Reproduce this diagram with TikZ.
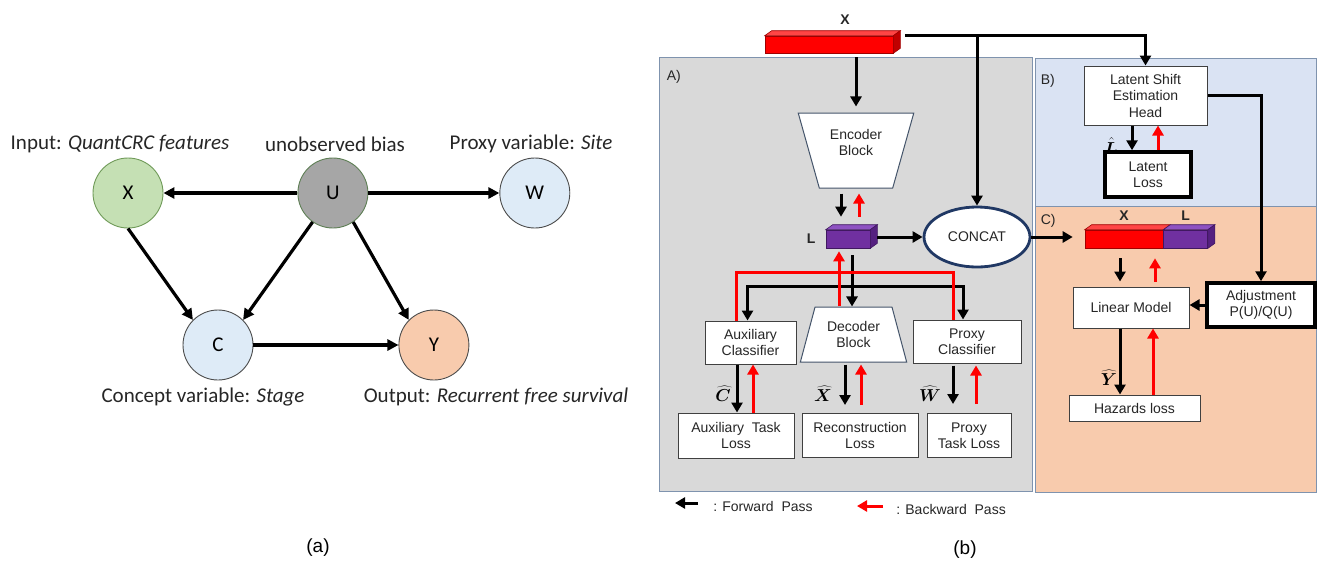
\documentclass[tikz,border=0pt]{standalone}
\usepackage{fontspec}
\setmainfont{Liberation Sans}
\newfontfamily\calibri{Carlito}
\usepackage{bm}
\usetikzlibrary{positioning,shapes.geometric,arrows.meta}
\definecolor{xgreen}{HTML}{C5E0B4}
\definecolor{xgreenline}{HTML}{6F9A58}
\definecolor{ugray}{HTML}{A6A6A6}
\definecolor{ugrayline}{HTML}{5E7F55}
\definecolor{lblue}{HTML}{DEEBF7}
\definecolor{peach}{HTML}{F8CBAD}
\definecolor{panelA}{HTML}{D9D9D9}
\definecolor{panelB}{HTML}{DAE3F3}
\definecolor{panelline}{HTML}{7F93AE}
\definecolor{boxline}{HTML}{44546A}
\definecolor{navy}{HTML}{203864}
\definecolor{barred}{HTML}{FF0000}
\definecolor{barredtop}{HTML}{FF4545}
\definecolor{barredside}{HTML}{C00000}
\definecolor{barredline}{HTML}{A00000}
\definecolor{barpurple}{HTML}{7030A0}
\definecolor{barpurpletop}{HTML}{8E52C2}
\definecolor{barpurpleside}{HTML}{552080}
\definecolor{barpurpleline}{HTML}{401860}
\newcommand{\varfont}{\calibri\fontsize{21}{25}\selectfont}
\newcommand{\boxfont}{\fontsize{14}{16.5}\selectfont}
\tikzstyle{var}=[draw,circle,minimum size=70pt,inner sep=0pt,line width=0.9pt,font=\varfont]
\tikzstyle{varcap}=[inner sep=0pt,font=\varfont,text=black!85]
\tikzstyle{causal}=[-{Triangle[length=11pt,width=11pt]},line width=3.2pt]
\tikzstyle{panel}=[draw=panelline,line width=1pt,inner sep=0pt]
\tikzstyle{box}=[draw=black!75,fill=white,line width=1pt,align=center,inner sep=0pt,font=\boxfont,text=black!85]
\tikzstyle{heavybox}=[draw=black,line width=3.5pt]
\tikzstyle{block}=[trapezium,trapezium stretches=true,draw=boxline,fill=white,line width=1pt,inner sep=1pt,align=center,font=\boxfont,text=black!85]
\tikzstyle{txt}=[inner sep=0pt,font=\boxfont,align=center,text=black!85]
\tikzstyle{hatlab}=[inner sep=0pt,font=\fontsize{17}{20}\selectfont]
\tikzstyle{fwd}=[-{Triangle[length=10pt,width=11pt]},line width=3pt]
\tikzstyle{bwd}=[fwd,red]
\tikzstyle{slab}=[inner sep=0pt,line width=0.6pt,minimum height=18pt]
\newcommand{\newVar}[4]{\node[var,#3](#1)[#4]{#2};}
\newcommand{\newArc}[3]{\draw[causal,#3] (#1) -- (#2);}
\newcommand{\newBox}[4]{\node[box,#3](#1)[#4]{#2};}
% upper, lower, x of forward arrow, x of backward arrow, gap at upper, gap at lower
\newcommand{\newPair}[6]{%
  \coordinate (fw) at ([xshift=#3]#1.south);
  \coordinate (bw) at ([xshift=#4]#1.south);
  \draw[fwd,shorten <=#5,shorten >=#6] (fw) -- (fw |- #2.north);
  \draw[bwd,shorten <=#6,shorten >=#5] (bw |- #2.north) -- (bw);}
\newcommand{\slabTop}[3]{\filldraw[fill=#2,draw=#3,line width=0.6pt] (#1.north west) -- ++(7,-5) -- ([shift={(7,-5)}]#1.north east) -- (#1.north east) -- cycle;}
\newcommand{\slabSide}[3]{\filldraw[fill=#2,draw=#3,line width=0.6pt] (#1.north east) -- ++(7,-5) -- ([shift={(7,-5)}]#1.south east) -- (#1.south east) -- cycle;}

\begin{document}
\begin{tikzpicture}[x=1pt,y=-1pt,semithick]
  \fill[white] (0,0) rectangle (1321,563);
  \useasboundingbox (0,0) rectangle (1321,563);

  % (a) causal graph
  \newVar{X}{X}{fill=xgreen,draw=xgreenline}{at={(128,193)}}
  \newVar{U}{U}{fill=ugray,draw=ugrayline}{right=134pt of X}
  \newVar{W}{W}{fill=lblue,draw=black!70}{right=131pt of U}
  \newVar{C}{C}{fill=lblue,draw=black!70}{at={(218,345)}}
  \newVar{Y}{Y}{fill=peach,draw=black!70}{right=145pt of C}
  \newArc{U}{X}{}
  \newArc{U}{W}{}
  \newArc{X.south}{C.135}{}
  \newArc{U.235}{C.45}{}
  \newArc{U.305}{Y.135}{}
  \newArc{C}{Y}{}
  \node[varcap] (lx) at (120,144) {Input: \textit{QuantCRC features}};
  \node[varcap] (lu) at (335,144) {unobserved bias};
  \node[varcap] (lw) at (531,144) {Proxy variable: \textit{Site}};
  \node[varcap] (lc) at (203,397) {Concept variable: \textit{Stage}};
  \node[varcap] (ly) at (496,397) {Output: \textit{Recurrent free survival}};
  \node[font=\fontsize{19}{22}\selectfont] (capa) at (318,548) {(a)};

  % (b) panels
  \node[panel,fill=panelA,minimum width=373pt,minimum height=434pt] (pa) at (845.5,274) {};
  \node[panel,fill=panelB,minimum width=281pt,minimum height=148pt] (pb) at (1175.5,132) {};
  \node[panel,fill=peach,minimum width=281pt,minimum height=286pt] (pc) at (1175.5,349) {};
  \node[txt,anchor=north west] (pal) at ([shift={(8,14)}]pa.north west) {A)};
  \node[txt,anchor=north west] (pbl) at ([shift={(6,17)}]pb.north west) {B)};
  \node[txt,anchor=north west] (pcl) at ([shift={(6,9)}]pc.north west) {C)};

  % input and latent vectors
  \node[slab,fill=barred,draw=barredline,minimum width=128pt,minimum height=17pt] (xbar) at (829,44.5) {};
  \slabTop{xbar}{barredtop}{barredline}
  \slabSide{xbar}{barredside}{barredline}
  \node[txt,font=\boxfont\bfseries] (xlab) at (845,20) {X};
  \node[slab,fill=barpurple,draw=barpurpleline,minimum width=44pt] (lat) at (848,239) {};
  \slabTop{lat}{barpurpletop}{barpurpleline}
  \slabSide{lat}{barpurpleside}{barpurpleline}
  \node[txt,font=\boxfont\bfseries,left=10pt of lat] (llab) {L};

  % A) autoencoder with auxiliary heads
  \node[block,trapezium left angle=109,trapezium right angle=109,minimum width=116pt,minimum height=75pt] (enc) at (856,150.5) {Encoder\\Block\\\mbox{}};
  \node[block,trapezium angle=70,minimum width=107pt,minimum height=55pt] (dec) at (853.5,334.5) {Decoder\\Block};
  \node[ellipse,draw=navy,line width=2.8pt,fill=white,minimum width=106pt,minimum height=60pt,inner sep=0pt,font=\boxfont,text=black!85] (concat) at (977,237) {CONCAT};
  \newBox{aux}{Auxiliary\\Classifier}{minimum width=91pt,minimum height=43pt}{at={(750.5,342.5)}}
  \newBox{prx}{Proxy\\Classifier}{minimum width=108pt,minimum height=43pt}{at={(967,341.5)}}
  \newBox{auxl}{Auxiliary\ \ Task\\Loss}{minimum width=116pt,minimum height=45pt}{at={(736,435.5)}}
  \newBox{rec}{Reconstruction\\Loss}{minimum width=116pt,minimum height=44pt}{right=7pt of auxl}
  \newBox{prxl}{Proxy\\Task Loss}{minimum width=84pt,minimum height=44pt}{right=8pt of rec}

  % B) latent shift head
  \newBox{lsh}{Latent Shift\\Estimation\\Head}{minimum width=123pt,minimum height=59pt}{at={(1145.5,95.5)}}
  \newBox{ll}{Latent\\Loss}{heavybox,minimum width=86pt,minimum height=45pt}{at={(1148,174.5)}}

  % C) survival model
  \node[slab,fill=barred,draw=barredline,minimum width=78pt] (xlx) at (1124,239) {};
  \node[slab,fill=barpurple,draw=barpurpleline,minimum width=44pt,right=0pt of xlx] (xll) {};
  \slabTop{xlx}{barredtop}{barredline}
  \slabTop{xll}{barpurpletop}{barpurpleline}
  \slabSide{xll}{barpurpleside}{barpurpleline}
  \node[txt,font=\boxfont\bfseries,above=9pt of xlx] (xlxlab) {X};
  \node[txt,font=\boxfont\bfseries,above=9pt of xll] (xlllab) {L};
  \newBox{lin}{Linear Model}{minimum width=116pt,minimum height=41pt}{at={(1131,307.5)}}
  \newBox{adj}{Adjustment\\P(U)/Q(U)}{heavybox,minimum width=108pt,minimum height=44pt}{at={(1261,305)}}
  \newBox{haz}{Hazards loss}{minimum width=131pt,minimum height=26pt}{at={(1134.5,408)}}

  % connectors
  \draw[fwd,shorten <=4pt,shorten >=6pt] (enc.north |- xbar.south) -- (enc.north);
  \draw[fwd] ([xshift=12pt]xbar.north east) -| (lsh.north);
  \draw[fwd] (concat.north |- xbar.north east) -- (concat.north);
  \draw[fwd,shorten <=7pt] (concat.west -| lat.east) -- (concat.west);
  \draw[fwd,shorten >=12pt] (concat.east) -- (concat.east -| xlx.west);
  \draw[fwd] (lsh.east) -| (adj.north);
  \draw[fwd] (adj.west) -- (adj.west -| lin.east);

  \newPair{enc}{lat}{-15pt}{3pt}{5pt}{13pt}
  \newPair{lsh}{ll}{-13.5pt}{12.5pt}{0pt}{0pt}
  \newPair{xlx}{lin}{-4pt}{31pt}{10pt}{5pt}
  \newPair{lin}{haz}{-11pt}{22pt}{0pt}{0pt}
  \newPair{aux}{auxl}{-13.5pt}{2.5pt}{0pt}{0pt}
  \newPair{dec}{rec}{-8.5pt}{7.5pt}{2pt}{8pt}
  \newPair{prx}{prxl}{-14pt}{9pt}{2pt}{9pt}

  \path (dec.north) ++(-1.5,-20) coordinate (fsplit);
  \path (dec.north) ++(-14.5,-34) coordinate (bsplit);
  \draw[fwd,shorten <=7pt] (fsplit |- lat.south) -- (dec.north -| fsplit);
  \draw[fwd] (fsplit) -| ([xshift=-3pt]aux.north);
  \draw[fwd] (fsplit) -| ([xshift=-4pt]prx.north);
  \draw[red,line width=3pt] ([xshift=-14pt]aux.north) |- (bsplit) -| ([xshift=-14pt]prx.north);
  \draw[bwd,shorten >=3pt] (bsplit |- dec.north) -- (bsplit |- lat.south);

  % estimates
  \node[hatlab] (chat) at (723,394) {$\widehat{\bm{C}}$};
  \node[hatlab] (xhat) at (823,394) {$\widehat{\bm{X}}$};
  \node[hatlab] (what) at (930,394) {$\widehat{\bm{W}}$};
  \node[hatlab] (lhat) at (1111,146) {$\hat{\bm{L}}$};
  \node[hatlab] (yhat) at (1109,378) {$\widehat{\bm{Y}}$};

  % legend
  \node[txt,anchor=west] (fwdtxt) at (713,506) {: Forward\ \ Pass};
  \draw[fwd] ([xshift=-15pt,yshift=3pt]fwdtxt.west) -- ++(-23,0);
  \node[txt,anchor=west] (bwdtxt) at (896,509) {: Backward\ \ Pass};
  \draw[bwd] ([xshift=-13pt,yshift=3pt]bwdtxt.west) -- ++(-26,0);
  \node[font=\fontsize{19}{22}\selectfont] (capb) at (965,550) {(b)};
\end{tikzpicture}
\end{document}
